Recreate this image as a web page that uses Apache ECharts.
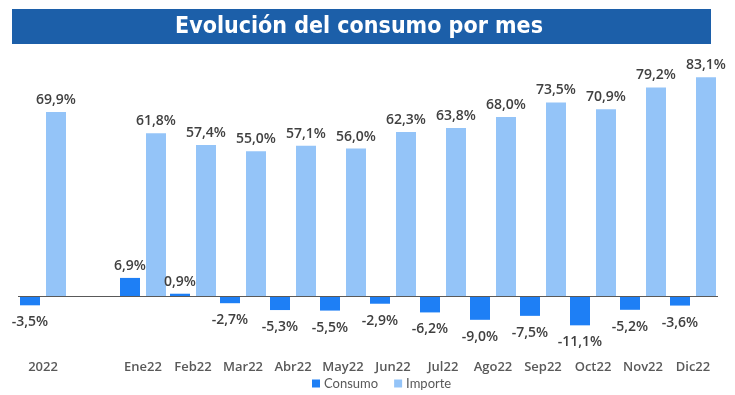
<!DOCTYPE html>
<html>
<head>
<meta charset="utf-8">
<script src="https://cdn.jsdelivr.net/npm/echarts@6/dist/echarts.min.js"></script>
<style>html,body{margin:0;padding:0;background:#fff}#c{width:735px;height:395px}</style>
</head>
<body>
<div id="c"></div>
<script>
var categories = ['2022', '', 'Ene22', 'Feb22', 'Mar22', 'Abr22', 'May22', 'Jun22', 'Jul22', 'Ago22', 'Sep22', 'Oct22', 'Nov22', 'Dic22'];
var consumo = [-3.5, null, 6.9, 0.9, -2.7, -5.3, -5.5, -2.9, -6.2, -9.0, -7.5, -11.1, -5.2, -3.6];
var importe = [69.9, null, 61.8, 57.4, 55.0, 57.1, 56.0, 62.3, 63.8, 68.0, 73.5, 70.9, 79.2, 83.1];
var titleText = 'Evolución del consumo por mes';

function fmt(p) { return p.value == null ? '' : p.value.toFixed(1).replace('.', ',') + '%'; }
var labelStyle = { show: true, formatter: fmt, color: '#404040', fontFamily: 'Open Sans', fontWeight: 600, fontSize: 14 };

var consumoData = consumo.map(function (v) {
  if (v == null) return { value: null };
  return { value: v, label: v >= 0 ? { position: 'top', distance: 5 } : { position: 'bottom', distance: 10 } };
});

var chart = echarts.init(document.getElementById('c'));
chart.setOption({
  animation: false,
  graphic: [
    { type: 'rect', shape: { x: 12, y: 9, width: 699, height: 35 }, style: { fill: '#1c5fa9' } },
    { type: 'text', x: 359, y: 27, style: { text: titleText, fill: '#ffffff', font: 'bold 23px "DejaVu Sans Condensed"', textAlign: 'center', textVerticalAlign: 'middle' } }
  ],
  grid: { left: 18, right: 17, top: 59, height: 299 },
  legend: {
    left: 312, top: 377, padding: 0, itemWidth: 8, itemHeight: 8, itemGap: 16,
    icon: 'rect',
    textStyle: { color: '#595959', fontFamily: 'Lato', fontSize: 13, padding: [0, 0, 0, -1] },
    data: ['Consumo', 'Importe']
  },
  xAxis: {
    type: 'category', data: categories,
    axisLine: { show: false, onZero: false }, axisTick: { show: false },
    axisLabel: { interval: 0, margin: 3, color: '#595959', fontFamily: 'Open Sans', fontWeight: 600, fontSize: 13 }
  },
  yAxis: { type: 'value', min: -23.5, max: 90, show: false, splitLine: { show: false } },
  series: [
    {
      name: 'Consumo', type: 'bar', data: consumoData, barWidth: 20, barGap: '30%',
      itemStyle: { color: '#1e7ff5' }, label: labelStyle,
      markLine: { silent: true, symbol: 'none', label: { show: false }, lineStyle: { color: '#595959', width: 1, type: 'solid' }, data: [{ yAxis: 0 }] }
    },
    {
      name: 'Importe', type: 'bar', data: importe, barWidth: 20, barGap: '30%',
      itemStyle: { color: '#94c4f8' }, label: Object.assign({ position: 'top', distance: 5 }, labelStyle)
    }
  ]
});
</script>
</body>
</html>
